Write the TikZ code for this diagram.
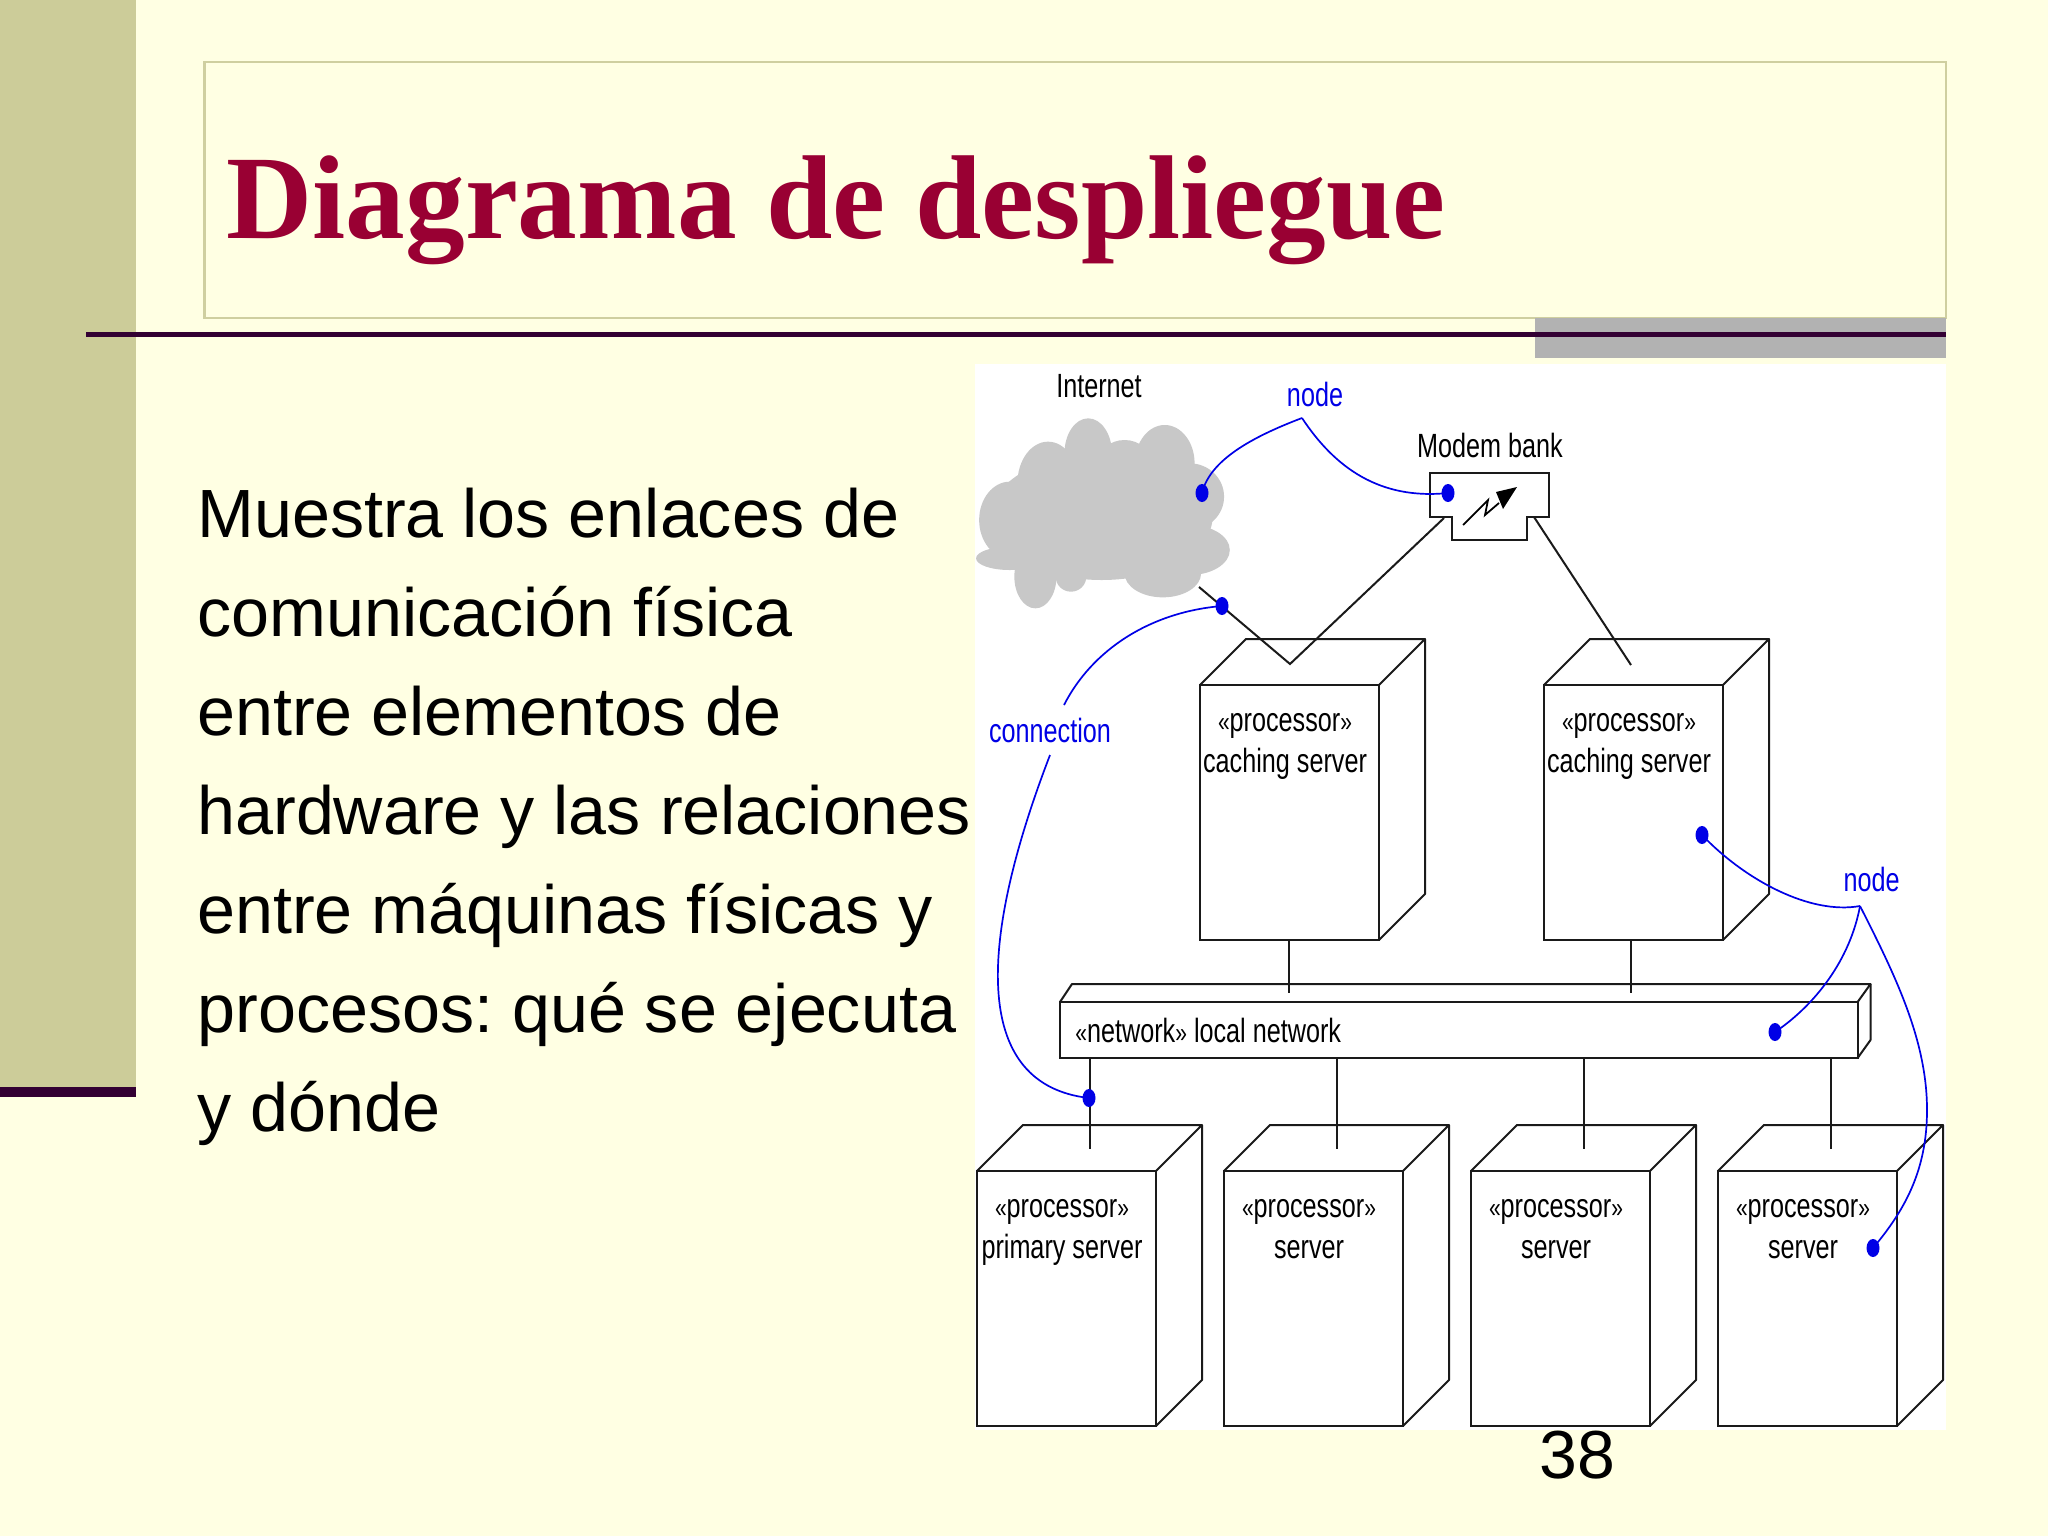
\documentclass[tikz,border=0pt]{standalone}
\usepackage{fontspec}
\setmainfont{Liberation Sans}
\newfontfamily\titlefont{Liberation Serif}
\newfontfamily\dfont[FakeStretch=0.75]{Liberation Sans}
\usetikzlibrary{shapes.geometric}
\definecolor{bgc}{HTML}{FFFFE3}
\definecolor{sidec}{HTML}{CCCC99}
\definecolor{darkc}{HTML}{330033}
\definecolor{boxc}{HTML}{CFCFA0}
\definecolor{shadec}{HTML}{B2B2B2}
\definecolor{titlec}{HTML}{990033}
\definecolor{cloudc}{HTML}{C8C8C8}
\definecolor{bluec}{HTML}{0000E6}
\definecolor{linec}{HTML}{1A1A1A}
\newcommand{\lgm}{{\fontsize{14}{14}\selectfont «}}
\newcommand{\rgm}{{\fontsize{14}{14}\selectfont »}}
\tikzset{
  dline/.style={draw=linec,line width=1pt},
  procface/.style={dline,rectangle,inner sep=0pt,outer sep=0pt,anchor=north west,minimum width=89.5pt,minimum height=127.5pt},
  dlabel/.style={inner sep=0pt,anchor=base,font=\fontsize{16.8}{18}\selectfont\dfont\frenchspacing,text=black},
  blabel/.style={dlabel,text=bluec},
  bdot/.style={ellipse,fill=bluec,inner sep=0pt,minimum width=6.5pt,minimum height=9pt},
  bcurve/.style={draw=bluec,line width=0.85pt},
}
\newcommand{\procbox}[3]{%
  \node[procface] (#1) at (#2,#3) {};
  \draw[dline,line join=round] (#1.north west) -- ++(46,-46) -- ++(179,0) -- (#1.north east);
  \draw[dline,line join=round] (#1.north east) ++(46,-46) -- ++(0,255) -- (#1.south east);
}
\begin{document}
\begin{tikzpicture}[x=0.5pt,y=-0.5pt]
\useasboundingbox (0,0) rectangle (2048,1536);
\fill[bgc] (0,0) rectangle (2048,1536);
% slide frame
\fill[sidec] (0,0) rectangle (136,1087);
\fill[darkc] (0,1087) rectangle (136,1097);
\draw[boxc,line width=1.2pt] (204.5,62) rectangle (1946,318);
\fill[shadec] (1535,318) rectangle (1946,358);
\draw[darkc,line width=2.2pt] (86,334.5) -- (1946,334.5);
\node[inner sep=0pt,anchor=base west,text=titlec,font=\fontsize{59.65}{60}\selectfont\titlefont\bfseries] (title) at (226,238) {Diagrama de despliegue};
\node[inner sep=0pt,anchor=base west,align=left,font=\fontsize{34.12}{49.5}\selectfont\frenchspacing] (body) at (197,1131) {Muestra los enlaces de\\comunicación física\\entre elementos de\\hardware y las relaciones\\entre máquinas físicas y\\procesos: qué se ejecuta\\y dónde};
% image
\fill[white] (975,364) rectangle (1946,1430);
% cloud
\begin{scope}[shift={(960,350)},x=0.19135pt,y=-0.16667pt]
\fill[cloudc] (150,380) rectangle (620,680);
\foreach \cx/\cy/\rx/\ry in {370/500/290/190,130/510/80/115,130/625/88/35,230/400/80/125,335/310/62/105,430/340/70/70,535/340/78/115,600/440/90/100,600/600/105/75,530/670/100/72,197/680/55/95,290/680/40/45}
  \fill[cloudc] (\cx,\cy) ellipse [x radius=\rx,y radius=\ry];
\end{scope}
\node[dlabel] (internet) at (1099,397) {Internet};
\node[dlabel] (modemlabel) at (1490,457) {Modem bank};
% modem
\draw[dline,line join=miter] (1430,473) -- (1549,473) -- (1549,517) -- (1527,517) -- (1527,540) -- (1452,540) -- (1452,517) -- (1430,517) -- cycle;
\coordinate (mleft) at (1444,518);
\coordinate (mright) at (1534,517);
\draw[draw=black,line width=0.9pt] (1463,525) -- (1488,500) -- (1485,515) -- (1499,503);
\fill[black] (1517,487) -- (1496,492) -- (1503,509) -- cycle;
% processors
\procbox{c1}{1200}{685}
\procbox{c2}{1544}{685}
\procbox{p1}{977}{1171}
\procbox{p2}{1224}{1171}
\procbox{p3}{1471}{1171}
\procbox{p4}{1718}{1171}
\node[dlabel] (c1a) at (1285,731) {\lgm processor\rgm};
\node[dlabel] (c1b) at (1285,772) {caching server};
\node[dlabel] (c2a) at (1629,731) {\lgm processor\rgm};
\node[dlabel] (c2b) at (1629,772) {caching server};
\node[dlabel] (p1a) at (1062,1217) {\lgm processor\rgm};
\node[dlabel] (p1b) at (1062,1258) {primary server};
\node[dlabel] (p2a) at (1309,1217) {\lgm processor\rgm};
\node[dlabel] (p2b) at (1309,1258) {server};
\node[dlabel] (p3a) at (1556,1217) {\lgm processor\rgm};
\node[dlabel] (p3b) at (1556,1258) {server};
\node[dlabel] (p4a) at (1803,1217) {\lgm processor\rgm};
\node[dlabel] (p4b) at (1803,1258) {server};
% network
\node[dline,rectangle,inner sep=0pt,outer sep=0pt,anchor=north west,minimum width=398.8pt,minimum height=28pt] (net) at (1060,1002) {};
\draw[dline,line join=round] (net.north west) -- ++(12,-18) -- (1870.5,984) -- (net.north east);
\draw[dline,line join=round] (1870.5,984) -- (1870.5,1040) -- (net.south east);
\node[dlabel,anchor=base west] (netlabel) at (1075,1042) {\lgm network\rgm\ local network};
% connectors
\coordinate (cl) at (1199,587);
\coordinate (vee) at (1290,664);
\coordinate (c2in) at (1631,665);
\draw[dline,line join=miter] (cl) -- (vee) -- (mleft);
\draw[dline] (mright) -- (c2in);
\coordinate (n1a) at (1289,993); \coordinate (c1s) at (1289,940);
\coordinate (n2a) at (1631,993); \coordinate (c2s) at (1631,940);
\draw[dline] (c1s) -- (n1a);
\draw[dline] (c2s) -- (n2a);
\coordinate (s1) at (1090,1058); \coordinate (e1) at (1090,1149);
\coordinate (s2) at (1337,1058); \coordinate (e2) at (1337,1149);
\coordinate (s3) at (1584,1058); \coordinate (e3) at (1584,1149);
\coordinate (s4) at (1831,1058); \coordinate (e4) at (1831,1149);
\draw[dline] (s1) -- (e1);
\draw[dline] (s2) -- (e2);
\draw[dline] (s3) -- (e3);
\draw[dline] (s4) -- (e4);
% blue annotations
\node[blabel] (nodea) at (1315,406) {node};
\node[blabel] (nodeb) at (1871.5,891) {node};
\node[blabel] (conn) at (1050,742) {connection};
\node[bdot] (da) at (1202,493) {};
\node[bdot] (db) at (1448,493) {};
\node[bdot] (dc) at (1222,606) {};
\node[bdot] (dd) at (1089,1098) {};
\node[bdot] (de) at (1702,835) {};
\node[bdot] (df) at (1775,1032) {};
\node[bdot] (dg) at (1873,1248) {};
\coordinate (ba) at (1302,418);
\coordinate (bb) at (1860,906);
\coordinate (ca) at (1064,705);
\coordinate (cb) at (1050,755);
\draw[bcurve] (ba) .. controls (1252,437) and (1210,460) .. (da.center);
\draw[bcurve] (ba) .. controls (1335,468) and (1380,500) .. (db.center);
\draw[bcurve] (dc.center) .. controls (1150,612) and (1092,650) .. (ca);
\draw[bcurve] (cb) .. controls (975,950) and (975,1085) .. (dd.center);
\draw[bcurve] (de.center) .. controls (1745,880) and (1810,915) .. (bb);
\draw[bcurve] (bb) .. controls (1850,960) and (1815,1005) .. (df.center);
\draw[bcurve] (bb) .. controls (1895,975) and (1927,1040) .. (1927,1110) .. controls (1927,1170) and (1905,1210) .. (dg.center);
% page number
\node[inner sep=0pt,anchor=base west,font=\fontsize{34}{40}\selectfont] (num) at (1539,1478) {38};
\end{tikzpicture}
\end{document}
